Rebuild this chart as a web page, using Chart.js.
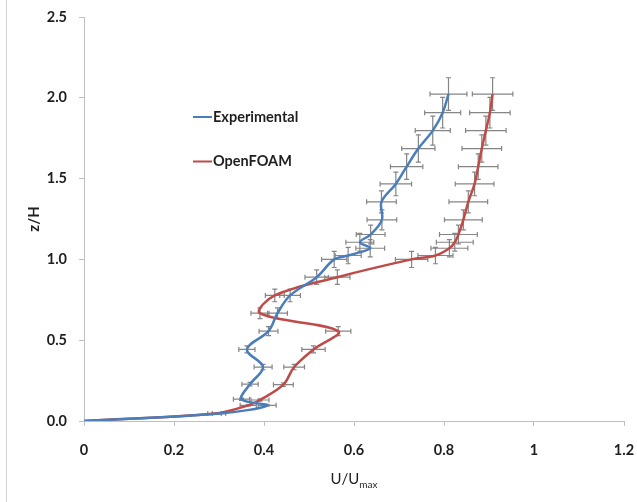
<!DOCTYPE html>
<html><head><meta charset="utf-8">
<script src="https://cdn.jsdelivr.net/npm/chart.js@4.4.1/dist/chart.umd.min.js"></script>
<style>
html,body{margin:0;padding:0;background:#fff;}
#wrap{position:relative;width:637px;height:502px;}
canvas{display:block;}
</style></head><body>
<div id="wrap"><canvas id="c" width="637" height="502"></canvas></div>
<script>
// ---- data ----
const seriesNames = ["Experimental", "OpenFOAM"];
const zExp    = [0, 0.046, 0.097, 0.135, 0.228, 0.334, 0.443, 0.556, 0.667, 0.777, 0.890, 1.000, 1.024, 1.069, 1.106, 1.154, 1.245, 1.356, 1.467, 1.574, 1.686, 1.797, 1.908, 2.023];
const uExp    = [0, 0.300, 0.407, 0.350, 0.369, 0.398, 0.362, 0.410, 0.430, 0.458, 0.517, 0.556, 0.587, 0.636, 0.613, 0.637, 0.662, 0.661, 0.693, 0.717, 0.743, 0.775, 0.797, 0.810];
const uExpErr = [0, 0.015, 0.020, 0.018, 0.018, 0.020, 0.018, 0.021, 0.022, 0.023, 0.026, 0.028, 0.029, 0.032, 0.031, 0.032, 0.033, 0.033, 0.035, 0.036, 0.037, 0.039, 0.040, 0.041];
const zExpErr = [0, 0.002, 0.005, 0.007, 0.011, 0.017, 0.022, 0.028, 0.033, 0.039, 0.045, 0.050, 0.051, 0.053, 0.055, 0.058, 0.062, 0.068, 0.073, 0.079, 0.084, 0.090, 0.095, 0.101];
const zCfd    = [0, 0.046, 0.097, 0.130, 0.225, 0.334, 0.443, 0.556, 0.667, 0.777, 0.890, 1.000, 1.024, 1.069, 1.106, 1.154, 1.245, 1.356, 1.467, 1.574, 1.686, 1.797, 1.908, 2.023];
const uCfd    = [0, 0.290, 0.365, 0.391, 0.443, 0.467, 0.510, 0.565, 0.391, 0.424, 0.563, 0.728, 0.781, 0.812, 0.824, 0.832, 0.843, 0.854, 0.868, 0.876, 0.884, 0.893, 0.902, 0.908];
const uCfdErr = [0, 0.015, 0.018, 0.020, 0.022, 0.023, 0.026, 0.028, 0.020, 0.021, 0.028, 0.036, 0.039, 0.041, 0.041, 0.042, 0.042, 0.043, 0.043, 0.044, 0.044, 0.045, 0.045, 0.045];
const zCfdErr = [0, 0.002, 0.005, 0.007, 0.011, 0.017, 0.022, 0.028, 0.033, 0.039, 0.045, 0.050, 0.051, 0.053, 0.055, 0.058, 0.062, 0.068, 0.073, 0.079, 0.084, 0.090, 0.095, 0.101];
const xTickLabels = ["0", "0.2", "0.4", "0.6", "0.8", "1", "1.2"];
const yTickLabels = ["0.0", "0.5", "1.0", "1.5", "2.0", "2.5"];
const xTitleMain = "U/U";
const xTitleSub = "max";
const yTitle = "z/H";

// ---- styles ----
const BLUE = '#4a7ebb', RED = '#be4b48', AXIS = '#bfbfbf', TXT = '#1f1f1f';
const FONT = 'Lato';

function pts(zs, us, ue, ze){ return zs.map((z,i)=>({x:us[i], y:z, ex:ue[i], ey:ze[i]})); }

const errorBars = {
  id:'errorBars',
  beforeDatasetsDraw(chart){
    const {ctx, scales:{x, y}} = chart;
    const cap = 2.5;
    ctx.save();
    ctx.strokeStyle = '#858585';
    ctx.lineWidth = 1.2;
    chart.data.datasets.forEach(ds=>{
      ds.data.forEach(p=>{
        if(!p.ex && !p.ey) return;
        const px = x.getPixelForValue(p.x), py = y.getPixelForValue(p.y);
        const x1 = x.getPixelForValue(p.x - p.ex), x2 = x.getPixelForValue(p.x + p.ex);
        const y1 = y.getPixelForValue(p.y - p.ey), y2 = y.getPixelForValue(p.y + p.ey);
        ctx.beginPath();
        ctx.moveTo(x1, py); ctx.lineTo(x2, py);
        ctx.moveTo(x1, py-cap); ctx.lineTo(x1, py+cap);
        ctx.moveTo(x2, py-cap); ctx.lineTo(x2, py+cap);
        ctx.moveTo(px, y1); ctx.lineTo(px, y2);
        ctx.moveTo(px-cap, y1); ctx.lineTo(px+cap, y1);
        ctx.moveTo(px-cap, y2); ctx.lineTo(px+cap, y2);
        ctx.stroke();
      });
    });
    ctx.restore();
  }
};

const extras = {
  id:'extras',
  afterDraw(chart){
    const ctx = chart.ctx, ca = chart.chartArea;
    ctx.save();
    // outer frame line on the left
    ctx.strokeStyle = '#d4d4d4'; ctx.lineWidth = 1;
    ctx.beginPath(); ctx.moveTo(6.5, 0); ctx.lineTo(6.5, 502); ctx.stroke();
    // legend inside plot
    const lx = ca.left + 109, ly = [ca.top + 100, ca.top + 144.5];
    chart.data.datasets.forEach((ds, i)=>{
      ctx.strokeStyle = ds.borderColor; ctx.lineWidth = 2;
      ctx.beginPath(); ctx.moveTo(lx, ly[i]); ctx.lineTo(lx + 19, ly[i]); ctx.stroke();
      ctx.fillStyle = TXT; ctx.font = 'bold 14.5px ' + FONT;
      ctx.textBaseline = 'middle'; ctx.textAlign = 'left';
      ctx.fillText(ds.label, lx + 20, ly[i]);
    });
    // x axis title with subscript
    ctx.font = '15px ' + FONT;
    const w1 = ctx.measureText(xTitleMain).width;
    ctx.font = '10px ' + FONT;
    const w2 = ctx.measureText(xTitleSub).width;
    const cx = (ca.left + ca.right) / 2;
    const sx = cx - (w1 + w2) / 2;
    ctx.fillStyle = TXT; ctx.textBaseline = 'alphabetic'; ctx.textAlign = 'left';
    ctx.font = '15px ' + FONT;
    ctx.fillText(xTitleMain, sx, 484);
    ctx.font = '10px ' + FONT;
    ctx.fillText(xTitleSub, sx + w1, 488);
    ctx.restore();
  }
};

new Chart(document.getElementById('c'), {
  type:'scatter',
  data:{
    datasets:[
      {label:seriesNames[0], data:pts(zExp, uExp, uExpErr, zExpErr), showLine:true, borderColor:BLUE, backgroundColor:BLUE, borderWidth:2.5, pointRadius:0, tension:0.35},
      {label:seriesNames[1], data:pts(zCfd, uCfd, uCfdErr, zCfdErr), showLine:true, borderColor:RED, backgroundColor:RED, borderWidth:2.5, pointRadius:0, tension:0.35}
    ]
  },
  options:{
    responsive:false, animation:false, devicePixelRatio:1,
    layout:{padding:{left:0, right:13, top:17, bottom:0}},
    plugins:{legend:{display:false}, tooltip:{enabled:false}},
    scales:{
      x:{
        type:'linear', min:0, max:1.2,
        ticks:{stepSize:0.2, padding:16, color:TXT, font:{family:FONT, size:14.5, weight:'bold'},
          callback:(v,i)=>xTickLabels[i]},
        grid:{drawOnChartArea:false, drawTicks:true, tickLength:5, color:AXIS, tickColor:AXIS},
        border:{display:true, color:AXIS, width:1},
        afterFit:(s)=>{ s.height = 81; s.paddingLeft = 0; s.paddingRight = 0; s.paddingTop = 0; s.paddingBottom = 0; }
      },
      y:{
        type:'linear', min:0, max:2.5,
        ticks:{stepSize:0.5, padding:12, color:TXT, font:{family:FONT, size:14.5, weight:'bold'},
          callback:(v,i)=>yTickLabels[i]},
        grid:{drawOnChartArea:false, drawTicks:true, tickLength:5, color:AXIS, tickColor:AXIS},
        border:{display:true, color:AXIS, width:1},
        title:{display:true, text:yTitle, color:TXT, font:{family:FONT, size:15, weight:'bold'}, padding:{top:25, bottom:0}},
        afterFit:(s)=>{ s.width = 84; s.paddingLeft = 0; s.paddingRight = 0; s.paddingTop = 0; s.paddingBottom = 0; }
      }
    }
  },
  plugins:[errorBars, extras]
});
</script>
</body></html>
